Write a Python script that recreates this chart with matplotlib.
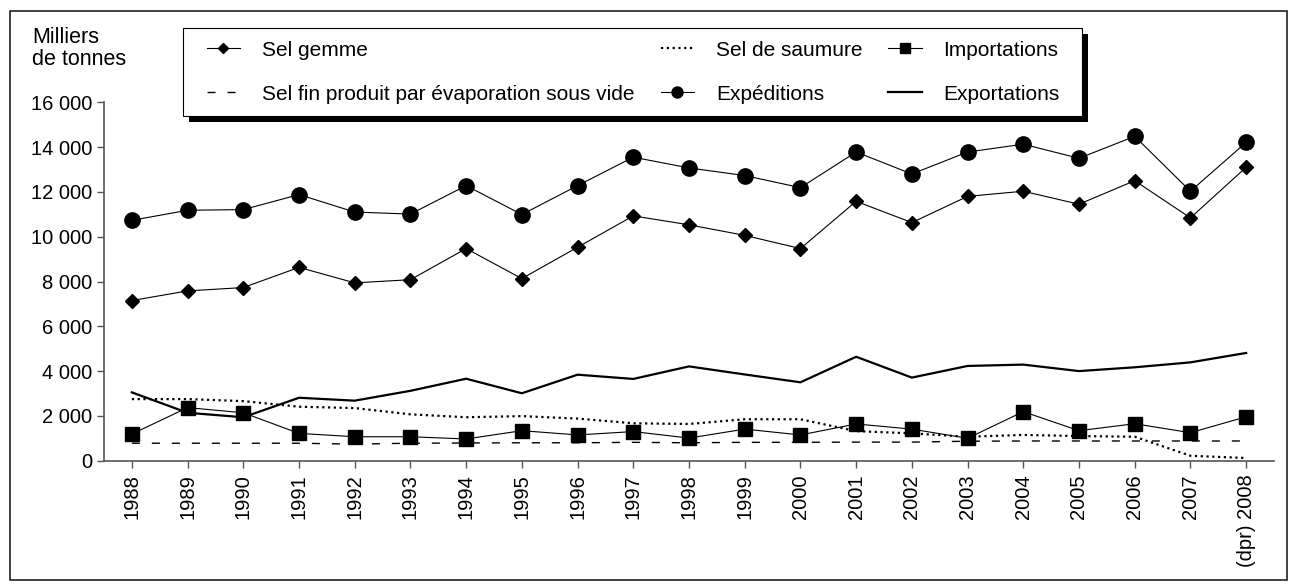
# -*- coding: utf-8 -*-

import matplotlib
matplotlib.use("Agg")
import matplotlib.pyplot as plt
from matplotlib.patches import Rectangle
from matplotlib.ticker import FuncFormatter

# Data (milliers de tonnes)
years = ["1988", "1989", "1990", "1991", "1992", "1993", "1994", "1995", "1996", "1997",
         "1998", "1999", "2000", "2001", "2002", "2003", "2004", "2005", "2006", "2007",
         "(dpr) 2008"]
sel_gemme = [7150, 7580, 7730, 8630, 7940, 8080, 9470, 8130, 9530, 10930,
             10530, 10060, 9470, 11580, 10630, 11800, 12030, 11450, 12500, 10840, 13100]
sel_fin = [780, 780, 780, 780, 740, 780, 790, 800, 800, 820,
           800, 820, 820, 830, 830, 870, 880, 880, 880, 880, 880]
sel_saumure = [2750, 2750, 2660, 2410, 2350, 2070, 1940, 1990, 1880, 1670,
               1640, 1850, 1850, 1320, 1220, 1070, 1150, 1100, 1070, 220, 120]
expeditions = [10730, 11180, 11210, 11880, 11100, 11010, 12280, 10990, 12280, 13550,
               13070, 12730, 12190, 13780, 12800, 13780, 14130, 13500, 14480, 12030, 14210]
importations = [1190, 2370, 2140, 1220, 1070, 1070, 970, 1340, 1150, 1300,
                1010, 1410, 1150, 1640, 1410, 1000, 2190, 1340, 1650, 1250, 1960]
exportations = [3050, 2140, 1940, 2810, 2680, 3120, 3660, 3010, 3840, 3650,
                4210, 3850, 3500, 4640, 3710, 4230, 4290, 4000, 4170, 4390, 4810]
y_ticks = [0, 2000, 4000, 6000, 8000, 10000, 12000, 14000, 16000]

plt.rcParams["font.family"] = ["Liberation Sans", "DejaVu Sans"]

W, H = 1294, 584


def px(x, y):
    # pixel (from top-left) -> figure fraction
    return x / W, 1 - y / H


def set_display(fig, ax):
    # axes frame: only left and bottom
    ax.spines["right"].set_visible(False)
    ax.spines["top"].set_visible(False)
    for s in ("left", "bottom"):
        ax.spines[s].set_color("#555555")
        ax.spines[s].set_linewidth(1.2)
    ax.patch.set_alpha(0.0)

    ax.set_xlim(-0.5, len(years) - 0.5)
    ax.set_ylim(0, 16000)
    ax.set_xticks(range(len(years)))
    ax.set_xticklabels(years, rotation=90)
    ax.set_yticks(y_ticks)
    ax.yaxis.set_major_formatter(FuncFormatter(lambda v, p: f"{int(v):,}".replace(",", " ")))
    ax.tick_params(direction="out", length=5, width=1.0, color="#555555",
                   labelsize=14.5, pad=3.6)
    ax.tick_params(axis="x", pad=5)

    # unit label
    fig.text(*px(32, 43.3), "Milliers", ha="left", va="baseline", fontsize=15.5)
    fig.text(*px(32, 65), "de tonnes", ha="left", va="baseline", fontsize=15.5)

    # outer frame
    fig.add_artist(Rectangle(px(10, 580), 1277 / W, 569 / H,
                             transform=fig.transFigure, fill=False,
                             edgecolor="#222222", linewidth=1.2))

    # legend frame with black drop shadow
    fig.add_artist(Rectangle(px(188.7, 122), 899.3 / W, 87.7 / H, transform=fig.transFigure,
                             facecolor="black", edgecolor="none", zorder=-2))
    fig.add_artist(Rectangle(px(182.7, 116), 899.3 / W, 87.7 / H, transform=fig.transFigure,
                             facecolor="white", edgecolor="black", linewidth=0.8, zorder=-1))


def main():
    fig = plt.figure(figsize=(W / 100, H / 100), dpi=100)
    ax = fig.add_axes([104 / W, 123.3 / H, 1170 / W, 358.4 / H])
    x = range(len(years))

    ax.plot(x, sel_gemme, color="black", linewidth=0.8, marker="D", markersize=7.5,
            label="Sel gemme")
    ax.plot(x, sel_fin, color="black", linewidth=1.0, linestyle=(0, (5.8, 8.6)),
            label="Sel fin produit par évaporation sous vide")
    ax.plot(x, sel_saumure, color="black", linewidth=1.6, linestyle=(0, (1, 1.6)),
            label="Sel de saumure")
    ax.plot(x, expeditions, color="black", linewidth=0.8, marker="o", markersize=11,
            label="Expéditions")
    ax.plot(x, importations, color="black", linewidth=0.8, marker="s", markersize=10.5,
            label="Importations")
    ax.plot(x, exportations, color="black", linewidth=1.6, label="Exportations")

    set_display(fig, ax)

    anchor = list(px(207, 38))
    leg = ax.legend(loc="upper left", bbox_to_anchor=anchor,
                    bbox_transform=fig.transFigure, ncol=3, frameon=False,
                    borderaxespad=0, borderpad=0,
                    handlelength=1.6, handletextpad=1.05, columnspacing=1.25,
                    labelspacing=1.2, fontsize=15, markerscale=0.72)

    # shift the legend so the first label sits where it does in the source
    fig.canvas.draw()
    tb = leg.get_texts()[0].get_window_extent()
    dx = 262 - tb.x0
    dy = (H - 50) - (tb.y0 + tb.y1) / 2
    leg.set_bbox_to_anchor((anchor[0] + dx / W, anchor[1] + dy / H), transform=fig.transFigure)

    fig.savefig("out.png", dpi=100)


if __name__ == '__main__':
    main()
